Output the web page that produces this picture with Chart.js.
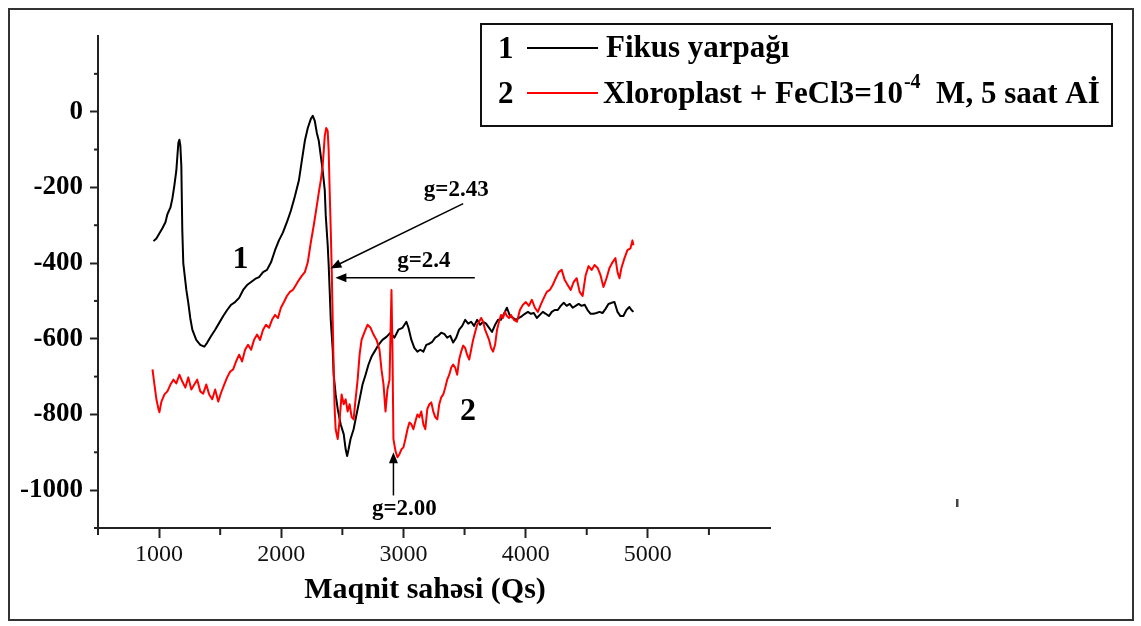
<!DOCTYPE html>
<html><head><meta charset="utf-8">
<script src="https://cdn.jsdelivr.net/npm/chart.js@4.4.1/dist/chart.umd.min.js"></script>
<style>html,body{margin:0;padding:0;background:#fff;}#wrap{position:relative;width:1141px;height:626px;}</style>
</head><body><div id="wrap"><canvas id="c" width="1141" height="626"></canvas></div>
<script>
// Series 1: Fikus yarpağı (black)
const fikusField = [954,978,1003,1027,1052,1068,1093,1109,1125,1141,1150,1158,1166,1174,1182,1190,1198,1223,1239,1255,1272,1304,1337,1370,1394,1427,1459,1492,1525,1557,1590,1622,1655,1688,1720,1753,1786,1818,1851,1883,1916,1949,1981,2014,2046,2079,2111,2144,2168,2193,2217,2242,2258,2274,2291,2307,2323,2339,2356,2364,2380,2388,2396,2405,2421,2429,2445,2462,2486,2511,2527,2539,2551,2567,2592,2616,2641,2665,2690,2714,2739,2763,2796,2828,2861,2894,2926,2959,2992,3024,3041,3065,3089,3114,3138,3163,3187,3212,3236,3260,3285,3309,3334,3358,3383,3407,3432,3456,3481,3505,3530,3554,3578,3603,3627,3652,3676,3701,3725,3750,3774,3798,3823,3847,3872,3896,3921,3945,3970,3994,4019,4043,4067,4092,4116,4141,4165,4190,4214,4238,4263,4287,4312,4336,4361,4385,4409,4434,4458,4483,4507,4532,4556,4580,4605,4629,4654,4678,4703,4727,4752,4776,4800,4825,4849,4866,4882];
const fikusSignal = [-342,-335,-321,-308,-292,-271,-253,-229,-195,-156,-116,-82,-74,-90,-143,-313,-400,-471,-505,-545,-576,-603,-616,-621,-610,-592,-576,-558,-540,-524,-510,-503,-492,-471,-458,-450,-442,-437,-424,-418,-398,-366,-340,-319,-292,-261,-224,-182,-130,-77,-43,-19,-11,-24,-56,-77,-116,-156,-208,-274,-353,-405,-471,-550,-629,-695,-747,-786,-826,-852,-892,-910,-892,-865,-839,-800,-760,-721,-695,-668,-647,-634,-616,-603,-595,-584,-597,-576,-571,-555,-571,-603,-624,-634,-629,-634,-616,-613,-608,-597,-592,-584,-587,-597,-592,-610,-597,-576,-566,-550,-560,-555,-566,-550,-563,-555,-560,-571,-582,-563,-550,-550,-534,-518,-540,-545,-550,-545,-540,-534,-529,-534,-532,-545,-537,-529,-534,-540,-529,-524,-524,-513,-505,-513,-508,-518,-513,-508,-513,-510,-524,-534,-534,-532,-529,-532,-521,-508,-505,-503,-529,-540,-540,-524,-516,-524,-529];
// Series 2: Xloroplast + FeCl3 (red)
const chloroField = [946,962,978,995,1003,1019,1044,1068,1093,1117,1141,1166,1190,1215,1239,1264,1288,1312,1337,1361,1386,1410,1435,1459,1484,1508,1533,1557,1581,1606,1630,1655,1679,1704,1728,1753,1777,1802,1826,1851,1875,1900,1924,1949,1973,1997,2022,2046,2071,2095,2120,2144,2168,2193,2217,2242,2266,2291,2307,2323,2339,2356,2368,2380,2388,2396,2405,2413,2421,2429,2437,2445,2462,2478,2494,2511,2527,2543,2559,2576,2592,2608,2625,2641,2657,2682,2706,2731,2755,2780,2804,2820,2837,2853,2869,2886,2902,2910,2918,2935,2951,2967,2984,3000,3016,3033,3049,3065,3081,3098,3114,3130,3146,3163,3179,3195,3212,3228,3244,3260,3277,3293,3309,3326,3342,3358,3375,3391,3407,3423,3440,3456,3472,3489,3505,3521,3538,3554,3570,3587,3603,3619,3636,3652,3668,3684,3701,3717,3733,3750,3766,3782,3798,3815,3831,3847,3864,3880,3904,3929,3953,3978,4002,4027,4051,4076,4100,4124,4149,4173,4198,4222,4247,4271,4295,4320,4344,4369,4393,4418,4442,4466,4491,4515,4540,4564,4589,4613,4637,4662,4686,4711,4735,4752,4768,4784,4809,4833,4858,4874,4882];
const chloroSignal = [-681,-721,-760,-786,-794,-766,-747,-739,-721,-708,-718,-695,-713,-729,-702,-734,-721,-708,-739,-745,-721,-747,-760,-734,-766,-742,-721,-702,-687,-681,-660,-642,-660,-629,-616,-629,-603,-589,-603,-576,-563,-571,-550,-537,-545,-518,-503,-487,-476,-471,-458,-445,-434,-424,-398,-345,-300,-248,-214,-182,-143,-64,-43,-51,-103,-208,-313,-418,-550,-681,-786,-839,-865,-813,-747,-773,-760,-792,-773,-807,-813,-760,-708,-642,-603,-582,-563,-571,-589,-603,-629,-681,-721,-792,-734,-708,-471,-629,-865,-897,-913,-905,-892,-887,-865,-839,-821,-826,-839,-818,-800,-807,-792,-826,-839,-786,-773,-768,-792,-807,-813,-773,-755,-747,-729,-708,-695,-676,-668,-676,-695,-655,-634,-618,-624,-642,-655,-629,-603,-582,-563,-555,-545,-555,-576,-589,-603,-624,-634,-616,-576,-555,-537,-545,-529,-540,-545,-537,-550,-555,-524,-510,-503,-513,-497,-518,-529,-510,-492,-476,-471,-458,-440,-424,-418,-445,-458,-471,-450,-440,-476,-487,-432,-408,-418,-405,-413,-432,-463,-440,-413,-398,-387,-424,-440,-413,-387,-366,-361,-340,-353];

const xTickLabels = [1000, 2000, 3000, 4000, 5000];
const yTickLabels = [0, -200, -400, -600, -800, -1000];
const xMinorTicks = [500, 1500, 2500, 3500, 4500, 5500];
const yMinorTicks = [100, -100, -300, -500, -700, -900, -1100];
const seriesNames = ['Fikus yarpağı', 'Xloroplast + FeCl3=10', '-4', '  M, 5 saat Aİ'];
const axisTitle = 'Maqnit sahəsi (Qs)';
// text annotations anchored in data units
const curveLabels = [
  {text: '1', x: 1667, y: -390},
  {text: '2', x: 3529, y: -794}
];
const gLabels = [
  {text: 'g=2.43', x: 3432, y: -208},
  {text: 'g=2.4', x: 3167, y: -395},
  {text: 'g=2.00', x: 3008, y: -1049}
];
const gArrows = [
  {x1: 3489, y1: -243, x2: 2402, y2: -414},
  {x1: 3584, y1: -439, x2: 2443, y2: -439},
  {x1: 2918, y1: -1014, x2: 2918, y2: -900}
];

const toPts = (xs, ys) => xs.map((v, i) => ({x: v, y: ys[i]}));
const SERIF = '"Liberation Serif", "Times New Roman", serif';

function arrow(c, x1, y1, x2, y2) {
  const a = Math.atan2(y2 - y1, x2 - x1), L = 11, W = 4.5;
  c.beginPath(); c.moveTo(x1, y1); c.lineTo(x2 - Math.cos(a) * L * 0.8, y2 - Math.sin(a) * L * 0.8); c.stroke();
  c.beginPath(); c.moveTo(x2, y2);
  c.lineTo(x2 - L * Math.cos(a) + W * Math.sin(a), y2 - L * Math.sin(a) - W * Math.cos(a));
  c.lineTo(x2 - L * Math.cos(a) - W * Math.sin(a), y2 - L * Math.sin(a) + W * Math.cos(a));
  c.closePath(); c.fill();
}

const deco = {
  id: 'deco',
  beforeDraw(chart) {
    const c = chart.ctx; c.save(); c.fillStyle = '#fff'; c.fillRect(0, 0, chart.width, chart.height); c.restore();
  },
  afterDraw(chart) {
    const c = chart.ctx, xs = chart.scales.x, ys = chart.scales.y, a = chart.chartArea;
    c.save();
    // outer frame
    c.strokeStyle = '#333'; c.lineWidth = 2;
    c.strokeRect(9, 9, 1124, 611);
    // minor ticks
    c.strokeStyle = '#222'; c.lineWidth = 2;
    yMinorTicks.forEach(v => { const p = ys.getPixelForValue(v); c.beginPath(); c.moveTo(a.left - 4, p); c.lineTo(a.left, p); c.stroke(); });
    xMinorTicks.forEach(v => { const p = xs.getPixelForValue(v); c.beginPath(); c.moveTo(p, a.bottom); c.lineTo(p, a.bottom + 7); c.stroke(); });
    // axis title
    c.fillStyle = '#000'; c.textAlign = 'center'; c.textBaseline = 'alphabetic';
    c.font = 'bold 30px ' + SERIF;
    c.fillText(axisTitle, 425, 598);
    // curve labels
    c.font = 'bold 32px ' + SERIF; c.textBaseline = 'middle';
    curveLabels.forEach(l => c.fillText(l.text, xs.getPixelForValue(l.x), ys.getPixelForValue(l.y)));
    c.font = 'bold 23px ' + SERIF;
    gLabels.forEach(l => c.fillText(l.text, xs.getPixelForValue(l.x), ys.getPixelForValue(l.y)));
    c.strokeStyle = '#000'; c.lineWidth = 1.5;
    gArrows.forEach(r => arrow(c, xs.getPixelForValue(r.x1), ys.getPixelForValue(r.y1), xs.getPixelForValue(r.x2), ys.getPixelForValue(r.y2)));
    // legend box
    c.strokeStyle = '#111'; c.lineWidth = 2;
    c.strokeRect(481, 24, 631, 102);
    c.textAlign = 'left'; c.textBaseline = 'alphabetic';
    c.font = 'bold 31px ' + SERIF;
    c.fillText('1', 498, 58);
    c.fillText('2', 498, 103);
    c.lineWidth = 2;
    c.strokeStyle = '#000'; c.beginPath(); c.moveTo(527, 48); c.lineTo(598, 48); c.stroke();
    c.strokeStyle = '#ff0000'; c.beginPath(); c.moveTo(527, 93); c.lineTo(598, 93); c.stroke();
    c.fillText(seriesNames[0], 606, 57);
    let x = 603;
    c.fillText(seriesNames[1], x, 103); x += c.measureText(seriesNames[1]).width;
    c.font = 'bold 20px ' + SERIF;
    c.fillText(seriesNames[2], x + 1, 88); x += c.measureText(seriesNames[2]).width + 1;
    c.font = 'bold 31px ' + SERIF;
    c.fillText(seriesNames[3], x, 103);
    // stray mark
    c.fillStyle = '#444'; c.fillRect(956, 499, 2.5, 8);
    c.restore();
  }
};

new Chart(document.getElementById('c'), {
  type: 'line',
  data: {
    datasets: [
      {label: 'Xloroplast + FeCl3', data: toPts(chloroField, chloroSignal), borderColor: '#ff0000', borderWidth: 2, pointRadius: 0, fill: false},
      {label: 'Fikus yarpağı', data: toPts(fikusField, fikusSignal), borderColor: '#000', borderWidth: 2, pointRadius: 0, fill: false}
    ]
  },
  options: {
    responsive: false, animation: false, devicePixelRatio: 1,
    layout: {padding: {left: 0, top: 36, right: 371, bottom: 0}},
    plugins: {legend: {display: false}, tooltip: {enabled: false}, title: {display: false}},
    elements: {line: {tension: 0, borderJoinStyle: 'round'}},
    scales: {
      x: {
        type: 'linear', min: 500, max: 6000,
        afterFit(s) { s.height = 98; },
        border: {display: true, color: '#222', width: 2},
        grid: {drawOnChartArea: false, drawTicks: true, tickLength: 10, tickWidth: 2,
          tickColor: ctx => xTickLabels.includes(ctx.tick.value) ? '#222' : 'rgba(0,0,0,0)'},
        ticks: {stepSize: 500, autoSkip: false, maxRotation: 0, minRotation: 0, padding: 2, color: '#111',
          font: {family: SERIF, size: 24},
          callback: v => xTickLabels.includes(v) ? String(v) : ''}
      },
      y: {
        type: 'linear', min: -1100, max: 200,
        afterFit(s) { s.width = 98; },
        border: {display: true, color: '#222', width: 2},
        grid: {drawOnChartArea: false, drawTicks: true, tickLength: 8, tickWidth: 2,
          tickColor: ctx => yTickLabels.includes(ctx.tick.value) ? '#222' : 'rgba(0,0,0,0)'},
        ticks: {stepSize: 100, autoSkip: false, padding: 7, color: '#000',
          font: {family: SERIF, size: 27, weight: 'bold'},
          callback: v => yTickLabels.includes(v) ? String(v) : ''}
      }
    }
  },
  plugins: [deco]
});
</script>
</body></html>
